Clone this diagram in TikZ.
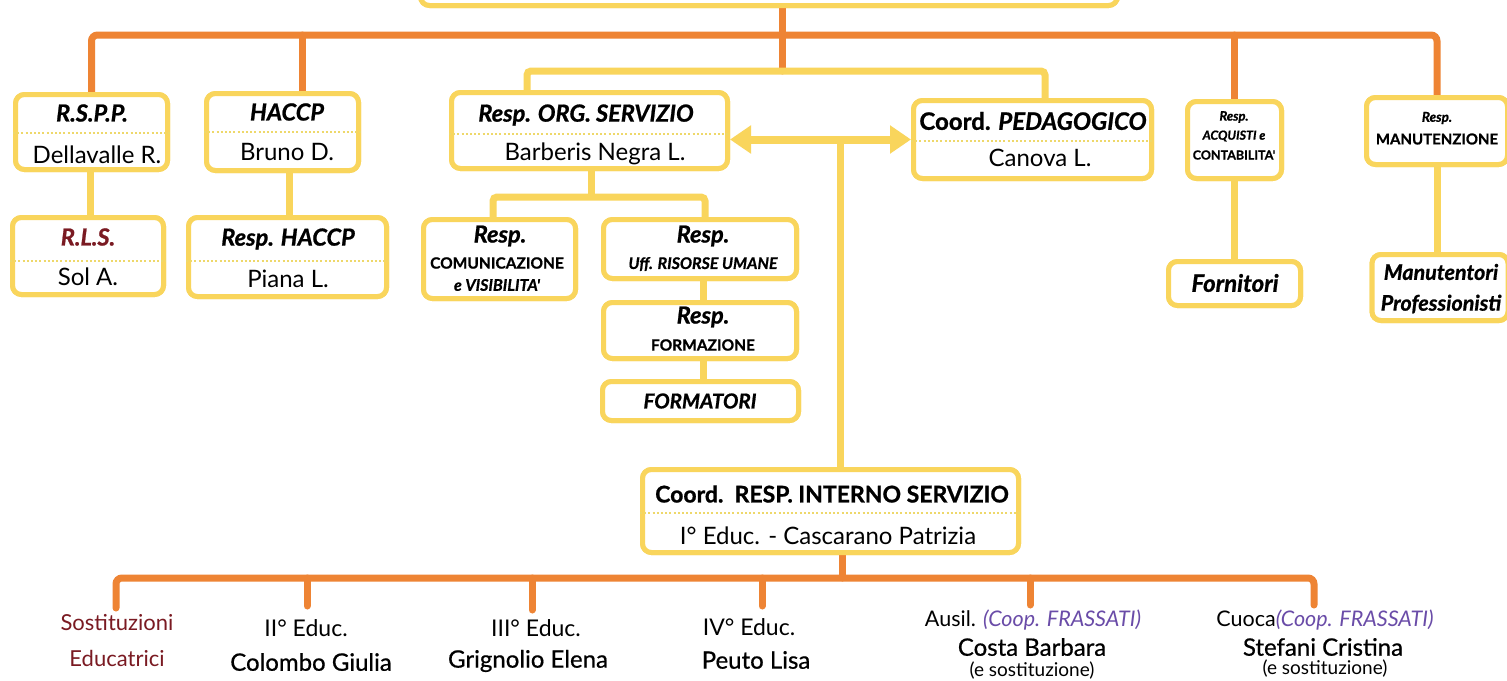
\documentclass[tikz,border=0pt]{standalone}
\usepackage{fontspec}
\setmainfont{Lato}
\newfontfamily\medfont[FakeBold=0.6]{Lato}
\newfontfamily\hv[FakeBold=0.9]{Lato}
\usetikzlibrary{arrows.meta}
\definecolor{boxY}{HTML}{F9D55C}
\definecolor{lineO}{HTML}{EE8434}
\definecolor{sepY}{HTML}{EED86A}
\definecolor{dred}{HTML}{7A1A22}
\definecolor{purp}{HTML}{6A4CA8}
\begin{document}
\begin{tikzpicture}[x=1pt,y=-1pt,
  bx/.style={draw=boxY,line width=5pt,rounded corners=9pt,fill=white,inner sep=0pt},
  oc/.style={draw=lineO,line width=7pt,rounded corners=6pt,line cap=round},
  yc/.style={draw=boxY,line width=7pt,rounded corners=4pt},
  sepl/.style={draw=sepY,line width=2.5pt,dash pattern=on 2pt off 2.2pt},
  tt/.style={font=\fontsize{23.5}{26}\selectfont\hv\bfseries\itshape,inner sep=0pt},
  nm/.style={font=\fontsize{24}{27}\selectfont,inner sep=0pt},
  sm/.style={font=\fontsize{15.5}{18}\selectfont\hv\bfseries,inner sep=0pt},
  smi/.style={font=\fontsize{16}{18}\selectfont\hv\bfseries\itshape,inner sep=0pt},
  tiny/.style={font=\fontsize{12.5}{15}\selectfont\hv\bfseries,inner sep=0pt},
  bl/.style={font=\fontsize{22}{25}\selectfont,inner sep=0pt},
  bn/.style={font=\fontsize{24}{27}\selectfont\medfont,inner sep=0pt},
  bs/.style={font=\fontsize{19}{21}\selectfont,inner sep=0pt}
]
\clip (0,0) rectangle (1507,680);
\fill[white] (0,0) rectangle (1507,680);

% boxes (positions)
\node[bx,minimum width=697,minimum height=53] (top) at (769,-21) {};
\node[bx,minimum width=152,minimum height=75] (rspp) at (91.5,132) {};
\node[bx,minimum width=151,minimum height=77] (rls) at (88,256) {};
\node[bx,minimum width=152,minimum height=77] (haccp) at (282.5,132) {};
\node[bx,minimum width=198,minimum height=79] (rhaccp) at (287.5,257) {};
\node[bx,minimum width=276,minimum height=76] (org) at (589.5,130.5) {};
\node[bx,minimum width=152,minimum height=79] (com) at (499.5,259) {};
\node[bx,minimum width=193,minimum height=59] (ru) at (700,249) {};
\node[bx,minimum width=193,minimum height=56] (form) at (700,330.5) {};
\node[bx,minimum width=196,minimum height=39] (fmt) at (700.5,401) {};
\node[bx,minimum width=238,minimum height=78] (ped) at (1032.5,139.5) {};
\node[bx,minimum width=94,minimum height=77] (acq) at (1234.5,140) {};
\node[bx,minimum width=132,minimum height=44] (forn) at (1234.5,283.5) {};
\node[bx,minimum width=141,minimum height=67] (man) at (1437,131) {};
\node[bx,minimum width=136,minimum height=66] (mp) at (1440,287.5) {};
\node[bx,minimum width=376,minimum height=83] (cri) at (830.5,511) {};

% junctions
\coordinate (tj) at (782,35);
\coordinate (yj) at (782,71);
\coordinate (oj) at (591,197);
\coordinate (aj) at (840,139);
\coordinate (bj) at (842,578);
\coordinate (e1) at (116,608);
\coordinate (e2) at (307,606);
\coordinate (e3) at (532,610);
\coordinate (e4) at (762,606);
\coordinate (e5) at (1030,605);
\coordinate (e6) at (1314,605);

% orange connectors
\draw[oc] (top.south -| tj) -- (yj);
\draw[oc] (rspp.north) |- (tj) -| (man.north);
\draw[oc] (haccp.north -| 302,0) -- (tj -| 302,0);
\draw[oc] (acq.north) -- (acq.north |- tj);
\draw[oc] (cri.south -| bj) -- (bj);
\draw[oc] (e1) |- (bj) -| (e6);
\draw[oc] (e2) -- (e2 |- bj);
\draw[oc] (e3) -- (e3 |- bj);
\draw[oc] (e4) -- (e4 |- bj);
\draw[oc] (e5) -- (e5 |- bj);
% yellow connectors
\draw[yc] (org.north -| 527,0) |- (yj) -| (ped.north -| 1045,0);
\draw[yc] (rspp.south -| 90,0) -- (rls.north -| 90,0);
\draw[yc] (haccp.south -| 289,0) -- (rhaccp.north -| 289,0);
\draw[yc] (org.south -| oj) -- (oj);
\draw[yc] (com.north -| 493,0) |- (oj) -| (ru.north -| 705,0);
\draw[yc] (ru.south -| 703,0) -- (form.north -| 703,0);
\draw[yc] (form.south -| 703,0) -- (fmt.north -| 703,0);
\draw[yc] (acq.south) -- (forn.north);
\draw[yc] (man.south) -- (man.south |- mp.north);
\draw[yc,line width=8pt,{Triangle[length=21pt,width=27pt]}-{Triangle[length=21pt,width=27pt]}] (org.east |- ped.west) -- (ped.west);
\draw[yc] (aj) -- (cri.north -| aj);

% redraw boxes on top of connectors
\foreach \n in {top,rspp,rls,haccp,rhaccp,org,com,ru,form,fmt,ped,acq,forn,man,mp,cri}{
  \draw[draw=boxY,line width=5pt,rounded corners=9pt,fill=white] ([shift={(2.5,-2.5)}]\n.south west) rectangle ([shift={(-2.5,2.5)}]\n.north east);
}

% separators
\draw[sepl] (rspp.west |- 0,133) -- (rspp.east |- 0,133);
\draw[sepl] (rls.west |- 0,261) -- (rls.east |- 0,261);
\draw[sepl] (haccp.west |- 0,132) -- (haccp.east |- 0,132);
\draw[sepl] (rhaccp.west |- 0,261) -- (rhaccp.east |- 0,261);
\draw[sepl] (org.west |- 0,134) -- (org.east |- 0,134);
\draw[sepl] (ped.west |- 0,141) -- (ped.east |- 0,141);
\draw[sepl] (cri.west |- 0,513) -- (cri.east |- 0,513);

% texts
\node[tt] (t1) at (92,113) {R.S.P.P.};
\node[nm] (n1) at (97,155) {Dellavalle R.};
\node[tt,text=dred] (t2) at (88,237) {R.L.S.};
\node[nm] (n2) at (88,277) {Sol A.};
\node[tt] (t3) at (287,112) {HACCP};
\node[nm] (n3) at (287,152) {Bruno D.};
\node[tt] (t4) at (288,239) {Resp. HACCP};
\node[nm] (n4) at (288,279) {Piana L.};
\node[tt] (t5) at (586,115) {Resp. ORG. SERVIZIO};
\node[nm] (n5) at (595,154) {Barberis Negra L.};
\node[tt] (t6) at (500,236) {Resp.};
\node[sm] (t6b) at (497,263) {COMUNICAZIONE};
\node[smi] (t6c) at (497,285) {e VISIBILITA'};
\node[tt] (t7) at (703,236) {Resp.};
\node[smi] (t7b) at (703,264) {Uff. RISORSE UMANE};
\node[tt] (t8) at (703,317) {Resp.};
\node[sm] (t8b) at (703,345) {FORMAZIONE};
\node[tt,font=\fontsize{20.5}{23}\selectfont\hv\bfseries\itshape] (t9) at (700,401) {FORMATORI};
\node[tt,font=\fontsize{24}{27}\selectfont\hv\bfseries] (t10) at (1033,121) {Coord. \textit{PEDAGOGICO}};
\node[nm] (n10) at (1040,158) {Canova L.};
\node[tiny,font=\fontsize{13}{15}\selectfont\hv\bfseries\itshape] (t11) at (1234,117) {Resp.};
\node[tiny,font=\fontsize{12.5}{15}\selectfont\hv\bfseries\itshape] (t11b) at (1234,136) {ACQUISTI e};
\node[tiny] (t11c) at (1234,155) {CONTABILITA'};
\node[tt,font=\fontsize{24}{27}\selectfont\hv\bfseries\itshape] (t12) at (1235,283) {Fornitori};
\node[tiny,font=\fontsize{13.5}{15}\selectfont\hv\bfseries\itshape] (t13) at (1437,118) {Resp.};
\node[sm,font=\fontsize{15}{18}\selectfont\hv\bfseries] (t13b) at (1437,139) {MANUTENZIONE};
\node[tt,font=\fontsize{21.5}{24}\selectfont\hv\bfseries\itshape] (t14) at (1441,272) {Manutentori};
\node[tt,font=\fontsize{21.5}{24}\selectfont\hv\bfseries\itshape] (t14b) at (1441,304) {Professionisti};
\node[tt,font=\fontsize{23}{26}\selectfont\hv\bfseries] (t15) at (832,494) {Coord.\ \ RESP. INTERNO SERVIZIO};
\node[nm] (n15) at (828,536) {I° Educ. - Cascarano Patrizia};

% bottom labels
\node[bl,text=dred] (b1) at (117,623) {Sostituzioni};
\node[bl,text=dred] (b1b) at (117,658) {Educatrici};
\node[bl,font=\fontsize{23}{26}\selectfont] (b2) at (306,628) {II° Educ.};
\node[bn] (b2b) at (311,662) {Colombo Giulia};
\node[bl,font=\fontsize{23}{26}\selectfont] (b3) at (536,628) {III° Educ.};
\node[bn] (b3b) at (528,661) {Grignolio Elena};
\node[bl,font=\fontsize{23}{26}\selectfont] (b4) at (749,627) {IV° Educ.};
\node[bn] (b4b) at (756,660) {Peuto Lisa};
\node[bl,font=\fontsize{21.5}{24}\selectfont] (b5) at (1033,620) {Ausil. \textcolor{purp}{\itshape(Coop. FRASSATI)}};
\node[bn] (b5b) at (1032,647) {Costa Barbara};
\node[bs] (b5c) at (1032,671) {(e sostituzione)};
\node[bl,font=\fontsize{21.5}{24}\selectfont] (b6) at (1325,620) {Cuoca\textcolor{purp}{\itshape(Coop. FRASSATI)}};
\node[bn] (b6b) at (1323,647) {Stefani Cristina};
\node[bs] (b6c) at (1325,669) {(e sostituzione)};
\end{tikzpicture}
\end{document}
